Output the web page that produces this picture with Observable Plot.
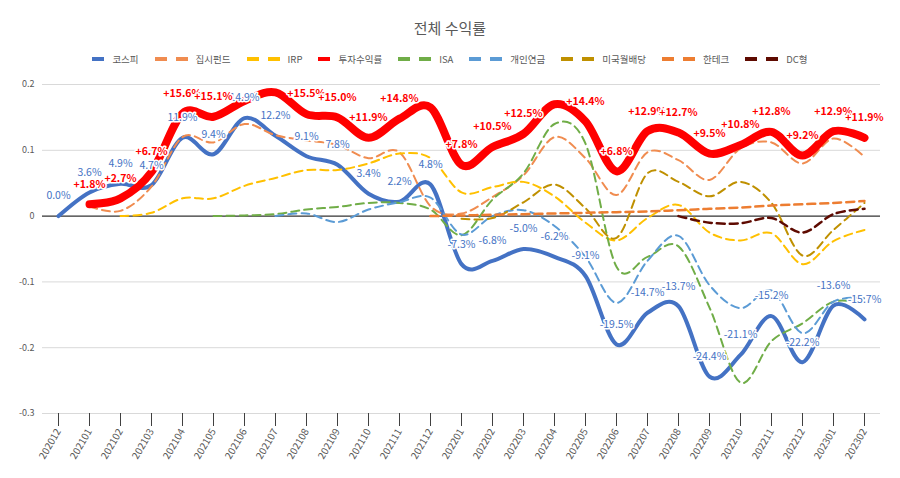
<!DOCTYPE html>
<html><head><meta charset="utf-8">
<script src="https://cdn.jsdelivr.net/npm/d3@7"></script>
<script src="https://cdn.jsdelivr.net/npm/@observablehq/plot@0.6"></script>
<style>
body{margin:0;background:#fff;font-family:"Noto Sans CJK KR","Noto Sans",sans-serif;}
#wrap{position:relative;width:900px;height:478px;overflow:hidden;}
#chart{position:absolute;left:0;top:0;}
#title{position:absolute;top:17px;left:0;width:900px;text-align:center;font-size:15px;color:#595959;z-index:2;}
#legend{position:absolute;top:52px;left:0;width:900px;display:flex;justify-content:center;align-items:center;font-size:9.5px;color:#595959;z-index:2;}
.item{display:flex;align-items:center;margin:0 8px;}
.item svg{margin-right:8px;}
</style></head>
<body>
<div id="wrap"><div id="chart"></div><div id="title">전체 수익률</div><div id="legend"></div></div>
<script>
const months = ["202012","202101","202102","202103","202104","202105","202106","202107","202108","202109","202110","202111","202112","202201","202202","202203","202204","202205","202206","202207","202208","202209","202210","202211","202212","202301","202302"];
const seriesNames = ["코스피","집시펀드","IRP","투자수익률","ISA","개인연금","미국월배당","한테크","DC형"];
const kospi = [0.000,0.036,0.049,0.047,0.119,0.094,0.149,0.122,0.091,0.078,0.034,0.022,0.048,-0.073,-0.068,-0.050,-0.062,-0.091,-0.195,-0.147,-0.137,-0.244,-0.211,-0.152,-0.222,-0.136,-0.157];
const jipsi = [null,0.015,0.008,0.045,0.120,0.112,0.140,0.123,0.115,0.108,0.088,0.097,0.015,0.004,0.029,0.062,0.120,0.088,0.032,0.097,0.085,0.055,0.103,0.112,0.080,0.118,0.090];
const irp = [null,null,0.000,0.005,0.027,0.027,0.046,0.058,0.070,0.070,0.080,0.095,0.088,0.036,0.044,0.052,0.030,-0.010,-0.037,-0.003,0.017,-0.025,-0.037,-0.026,-0.073,-0.038,-0.021];
const invest = [null,0.018,0.027,0.067,0.156,0.151,0.175,0.188,0.155,0.150,0.119,0.148,0.165,0.078,0.105,0.125,0.170,0.144,0.068,0.129,0.127,0.095,0.108,0.128,0.092,0.129,0.119];
const isa = [null,null,null,null,null,0.000,0.001,0.003,0.010,0.014,0.020,0.020,0.010,-0.029,0.025,0.065,0.140,0.110,-0.077,-0.062,-0.046,-0.139,-0.253,-0.190,-0.163,-0.130,-0.133];
const pension = [null,null,null,null,null,null,null,0.000,0.004,-0.009,0.010,0.021,0.028,-0.028,0.000,0.009,-0.015,-0.062,-0.132,-0.068,-0.030,-0.105,-0.140,-0.113,-0.178,-0.130,-0.125];
const usdiv = [null,null,null,null,null,null,null,null,null,null,null,null,null,-0.004,-0.003,0.021,0.048,0.012,-0.033,0.065,0.052,0.030,0.052,0.020,-0.060,-0.021,0.020];
const hantech = [null,null,null,null,null,null,null,null,null,null,null,null,0.000,0.001,0.002,0.003,0.004,0.005,0.006,0.007,0.009,0.011,0.013,0.016,0.018,0.020,0.023];
const dc = [null,null,null,null,null,null,null,null,null,null,null,null,null,null,null,null,null,null,null,null,0.000,-0.010,-0.011,-0.003,-0.025,0.003,0.011];
// months whose invest label is not shown
const investHidden = ["202012","202106","202107","202112","202204"];
const yTicks = [0.2,0.1,0,-0.1,-0.2,-0.3];

const seriesValues = [kospi,jipsi,irp,invest,isa,pension,usdiv,hantech,dc];
const styles = [
  {color:"#4472C4",w:4,dash:null},
  {color:"#F08C50",w:2,dash:"8,5"},
  {color:"#FFC000",w:2,dash:"8,5"},
  {color:"#FF0000",w:8,dash:null},
  {color:"#70AD47",w:2,dash:"8,5"},
  {color:"#5B9BD5",w:2,dash:"8,5"},
  {color:"#BF9000",w:2,dash:"8,5"},
  {color:"#ED7D31",w:2.5,dash:"8,5"},
  {color:"#5E0A00",w:2.5,dash:"8,5"}
];

const rows = [];
seriesNames.forEach((s,i)=>{
  seriesValues[i].forEach((v,j)=>{ if(v!=null) rows.push({month:months[j],value:v,series:s}); });
});

const kospiLabels = months.map((m,j)=>({month:m,value:kospi[j],label:(kospi[j]*100).toFixed(1)+"%"}));
const investLabels = months.map((m,j)=>({month:m,value:invest[j]})).filter(d=>d.value!=null && !investHidden.includes(d.month))
  .map(d=>({...d,label:"+"+(d.value*100).toFixed(1)+"%"}));

const lineMarks = seriesNames.map((s,i)=>Plot.line(rows.filter(d=>d.series===s),{
  x:"month",y:"value",stroke:styles[i].color,strokeWidth:styles[i].w,
  strokeDasharray:styles[i].dash||undefined,curve:"cardinal"
}));

const chart = Plot.plot({
  width:900,height:478,
  marginTop:84,marginBottom:65,marginLeft:42,marginRight:20,
  style:{fontFamily:'"Noto Sans CJK KR","Noto Sans",sans-serif',background:"white",color:"#595959"},
  x:{type:"point",domain:months,padding:0.5},
  y:{domain:[-0.3,0.2]},
  marks:[
    Plot.ruleY(yTicks.filter(t=>t!==0),{stroke:"#D9D9D9",strokeWidth:1}),
    Plot.ruleY([0],{stroke:"#333333",strokeWidth:1.2}),
    ...lineMarks,
    Plot.text(kospiLabels,{x:"month",y:"value",text:"label",dy:-20,fill:"#4472C4",stroke:"white",strokeWidth:3,fontSize:10.5}),
    Plot.text(investLabels,{x:"month",y:"value",text:"label",dy:-20,fill:"#FF0000",stroke:"white",strokeWidth:3,fontSize:10.5,fontWeight:"bold"}),
    Plot.axisX({tickRotate:-60,tickSize:13,tickPadding:3,fontSize:10,stroke:"#404040",fill:"#595959",label:null}),
    Plot.axisY({ticks:yTicks,tickSize:0,tickPadding:8,fontSize:9,fill:"#595959",label:null,
      tickFormat:d=>d===0?"0":d.toFixed(1)})
  ]
});
document.getElementById("chart").appendChild(chart);

// legend
const legend = d3.select("#legend");
seriesNames.forEach((s,i)=>{
  const st = styles[i];
  const it = legend.append("div").attr("class","item");
  const w = st.dash?33:12;
  const sv = it.append("svg").attr("width",w).attr("height",8);
  if(st.dash){
    sv.append("rect").attr("x",0).attr("y",2).attr("width",12).attr("height",4).attr("fill",st.color);
    sv.append("rect").attr("x",21).attr("y",2).attr("width",12).attr("height",4).attr("fill",st.color);
  } else {
    sv.append("rect").attr("x",0).attr("y",2).attr("width",12).attr("height",4).attr("fill",st.color);
  }
  it.append("span").text(s);
});
</script>
</body></html>
